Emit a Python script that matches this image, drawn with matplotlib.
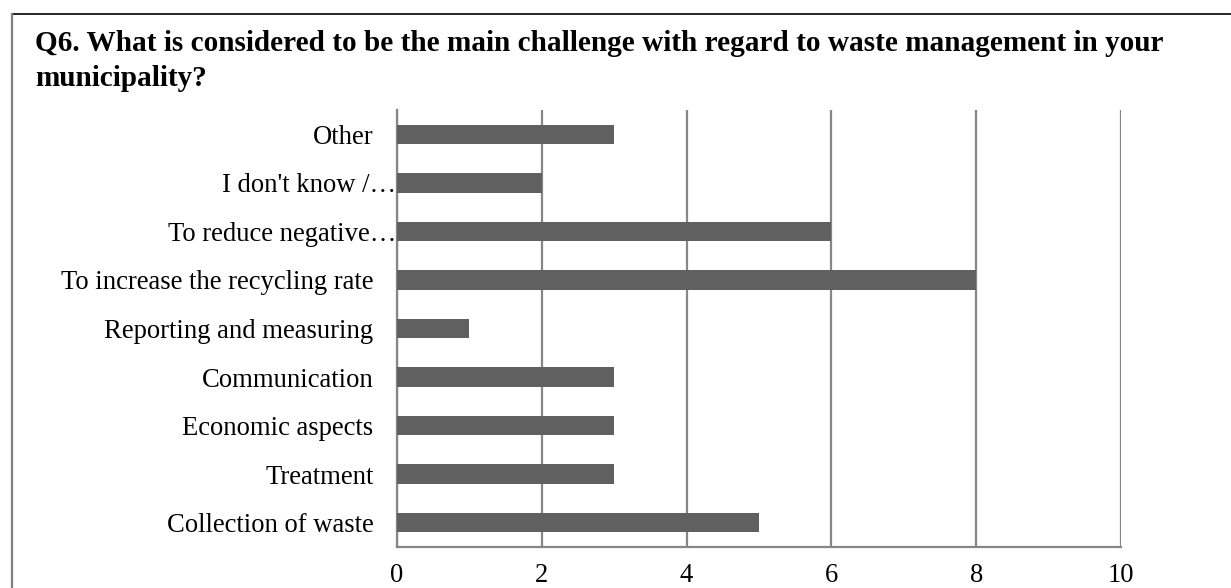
import matplotlib
matplotlib.use('Agg')
import matplotlib.pyplot as plt
from matplotlib.lines import Line2D
from matplotlib.transforms import ScaledTranslation

plt.rcParams['font.family'] = ['Liberation Serif', 'DejaVu Serif']

categories = ['Collection of waste', 'Treatment', 'Economic aspects', 'Communication',
              'Reporting and measuring', 'To increase the recycling rate',
              'To reduce negative\u2026', "I don't know /\u2026", 'Other']
counts = [5, 3, 3, 3, 1, 8, 6, 2, 3]
xticks = [0, 2, 4, 6, 8, 10]

fig = plt.figure(figsize=(12.31, 5.88), dpi=100)
ax = fig.add_axes([397 / 1231, 1 - 547 / 588, (1121 - 397) / 1231, (547 - 110) / 588])

grid_c = '#868686'
ax.barh(range(len(categories)), counts, height=0.4, color='#606060', zorder=3)
ax.set_xlim(0, 10)
ax.set_ylim(-0.5, len(categories) - 0.5)
ax.set_xticks(xticks)
ax.set_yticks(range(len(categories)))
ax.set_yticklabels(categories, fontsize=19.2)
ax.tick_params(axis='x', length=0, pad=11.5, labelsize=19.2)
ax.tick_params(axis='y', length=0, pad=17)
ax.xaxis.grid(True, color=grid_c, linewidth=1.6, zorder=0)
for side in ['top', 'right']:
    ax.spines[side].set_visible(False)
for side in ['left', 'bottom']:
    ax.spines[side].set_color(grid_c)
    ax.spines[side].set_linewidth(1.6)

# truncated labels run right up to the axis
shift = ScaledTranslation(23 / 100, 0, fig.dpi_scale_trans)
for lbl in ax.get_yticklabels():
    if lbl.get_text().endswith('\u2026'):
        lbl.set_transform(lbl.get_transform() + shift)

fig.text(35 / 1231, 1 - 30 / 588,
         'Q6. What is considered to be the main challenge with regard to waste management in your\n'
         'municipality?', fontsize=21.1, fontweight='bold', va='top', ha='left',
         linespacing=1.4)

# chart frame
fig.add_artist(Line2D([12 / 1231, 1], [1 - 14 / 588, 1 - 14 / 588], color='black', linewidth=1.2,
                      transform=fig.transFigure))
fig.add_artist(Line2D([12 / 1231, 12 / 1231], [0, 1 - 14 / 588], color='#7f7f7f', linewidth=1.6,
                      transform=fig.transFigure))

fig.savefig('out.png', dpi=100)
